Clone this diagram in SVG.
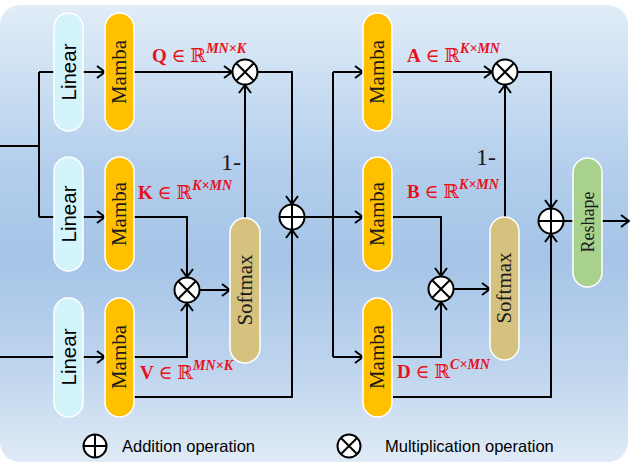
<svg xmlns="http://www.w3.org/2000/svg" width="630" height="463" viewBox="0 0 630 463">
<defs>
<linearGradient id="bg" x1="0" y1="0" x2="0" y2="1">
<stop offset="0" stop-color="#e1edf8"/>
<stop offset="0.35" stop-color="#b4cfec"/>
<stop offset="0.55" stop-color="#a5c4e7"/>
<stop offset="0.8" stop-color="#bfd5ee"/>
<stop offset="1" stop-color="#e0ebf6"/>
</linearGradient>
<marker id="ar" markerUnits="userSpaceOnUse" markerWidth="12" markerHeight="14" refX="10" refY="7" orient="auto">
<path d="M2,1 L10,7 L2,13" fill="none" stroke="#000" stroke-width="2"/>
</marker>
</defs>
<style>
.ln{fill:none;stroke:#000;stroke-width:2}
.lin{fill:#d3f4fb;stroke:#fff;stroke-width:1.5}
.mam{fill:#ffc000;stroke:#fff;stroke-width:1.5}
.sm{fill:#d5c27f;stroke:#fff;stroke-width:1.5}
.rs{fill:#a9d18e;stroke:#fff;stroke-width:1.5}
.op{fill:#fff;stroke:#000;stroke-width:2}
.sans{font-family:"Liberation Sans",Arial,sans-serif;fill:#000}
.serif{font-family:"Liberation Serif","DejaVu Serif",serif;fill:#1a1a1a}
.pl{font-family:"Liberation Sans",Arial,sans-serif;fill:#000;font-size:20.5px}
.pm{font-family:"Liberation Serif","DejaVu Serif",serif;fill:#1a1a1a;font-size:21px}
.lab{font-family:"Liberation Serif","DejaVu Serif",serif;fill:#e8101a;font-size:19px}
.sup{font-size:14px;font-style:italic;font-weight:bold}
</style>
<rect x="0" y="5" width="628" height="457" rx="20" fill="url(#bg)"/>

<g id="connectors">
<path class="ln" d="M0,146 H39 M39,72 V217 M39,72 H54 M39,217 H54"/>
<path class="ln" d="M0,357 H54"/>
<path class="ln" d="M83,72 H105" marker-end="url(#ar)"/>
<path class="ln" d="M83,217 H105" marker-end="url(#ar)"/>
<path class="ln" d="M83,357 H105" marker-end="url(#ar)"/>
<path class="ln" d="M134,72 H232" marker-end="url(#ar)"/>
<path class="ln" d="M245,218 V85" marker-end="url(#ar)"/>
<path class="ln" d="M257.5,72 H292 V204" marker-end="url(#ar)"/>
<path class="ln" d="M134,217 H187 V277" marker-end="url(#ar)"/>
<path class="ln" d="M134,357 H187 V303" marker-end="url(#ar)"/>
<path class="ln" d="M199.5,290 H230" marker-end="url(#ar)"/>
<path class="ln" d="M134,397 H292 V230" marker-end="url(#ar)"/>
<path class="ln" d="M304.5,217 H363" marker-end="url(#ar)"/>
<path class="ln" d="M333,72 V357"/>
<path class="ln" d="M333,72 H363" marker-end="url(#ar)"/>
<path class="ln" d="M333,357 H363" marker-end="url(#ar)"/>
<path class="ln" d="M393,72 H492" marker-end="url(#ar)"/>
<path class="ln" d="M505,217 V85" marker-end="url(#ar)"/>
<path class="ln" d="M517.5,72 H551 V208" marker-end="url(#ar)"/>
<path class="ln" d="M393,217 H441 V276" marker-end="url(#ar)"/>
<path class="ln" d="M393,357 H441 V302" marker-end="url(#ar)"/>
<path class="ln" d="M453.5,289 H490" marker-end="url(#ar)"/>
<path class="ln" d="M393,397 H551 V234" marker-end="url(#ar)"/>
<path class="ln" d="M564,221 H573"/>
<path class="ln" d="M602,221 H629" marker-end="url(#ar)"/>
</g>

<g id="linear1"><rect class="lin" x="54" y="13" width="29" height="118" rx="14.5"/><text class="pl" text-anchor="middle" transform="translate(76,72) rotate(-90)">Linear</text></g>
<g id="linear2"><rect class="lin" x="54" y="157" width="29" height="114" rx="14.5"/><text class="pl" text-anchor="middle" transform="translate(76,214) rotate(-90)">Linear</text></g>
<g id="linear3"><rect class="lin" x="54" y="298" width="29" height="119" rx="14.5"/><text class="pl" text-anchor="middle" transform="translate(76,357) rotate(-90)">Linear</text></g>

<g id="mamba1"><rect class="mam" x="105" y="13" width="29" height="118" rx="14.5"/><text class="pm" text-anchor="middle" transform="translate(126,72) rotate(-90)">Mamba</text></g>
<g id="mamba2"><rect class="mam" x="105" y="157" width="29" height="114" rx="14.5"/><text class="pm" text-anchor="middle" transform="translate(126,214) rotate(-90)">Mamba</text></g>
<g id="mamba3"><rect class="mam" x="105" y="298" width="29" height="119" rx="14.5"/><text class="pm" text-anchor="middle" transform="translate(126,357) rotate(-90)">Mamba</text></g>

<g id="mamba4"><rect class="mam" x="363" y="13" width="29" height="118" rx="14.5"/><text class="pm" text-anchor="middle" transform="translate(384,72) rotate(-90)">Mamba</text></g>
<g id="mamba5"><rect class="mam" x="363" y="157" width="29" height="114" rx="14.5"/><text class="pm" text-anchor="middle" transform="translate(384,214) rotate(-90)">Mamba</text></g>
<g id="mamba6"><rect class="mam" x="363" y="298" width="29" height="119" rx="14.5"/><text class="pm" text-anchor="middle" transform="translate(384,357) rotate(-90)">Mamba</text></g>

<g id="softmax1"><rect class="sm" x="230" y="218" width="30" height="145" rx="15"/><text class="pm" text-anchor="middle" transform="translate(251.5,290) rotate(-90)">Softmax</text></g>
<g id="softmax2"><rect class="sm" x="490" y="217" width="29" height="143" rx="14.5"/><text class="pm" text-anchor="middle" transform="translate(511,288) rotate(-90)">Softmax</text></g>

<g id="reshape"><rect class="rs" x="573" y="158" width="29" height="129" rx="14.5"/><text class="serif" font-size="18" text-anchor="middle" transform="translate(593.5,222) rotate(-90)">Reshape</text></g>

<g id="mul1"><circle class="op" cx="245" cy="72" r="12.5"/><path class="ln" d="M236.5,63.5 L253.5,80.5 M253.5,63.5 L236.5,80.5" stroke-width="1.5"/></g>
<g id="mul2"><circle class="op" cx="187" cy="290" r="12.5"/><path class="ln" d="M178.5,281.5 L195.5,298.5 M195.5,281.5 L178.5,298.5" stroke-width="1.5"/></g>
<g id="add1"><circle class="op" cx="292" cy="217" r="12.5"/><path class="ln" d="M279.5,217 H304.5 M292,204.5 V229.5" stroke-width="1.5"/></g>
<g id="mul3"><circle class="op" cx="505" cy="72" r="12.5"/><path class="ln" d="M496.5,63.5 L513.5,80.5 M513.5,63.5 L496.5,80.5" stroke-width="1.5"/></g>
<g id="mul4"><circle class="op" cx="441" cy="289" r="12.5"/><path class="ln" d="M432.5,280.5 L449.5,297.5 M449.5,280.5 L432.5,297.5" stroke-width="1.5"/></g>
<g id="add2"><circle class="op" cx="551" cy="221" r="12.5"/><path class="ln" d="M538.5,221 H563.5 M551,208.5 V233.5" stroke-width="1.5"/></g>

<g id="labels">
<text class="lab" x="152" y="62"><tspan font-weight="bold">Q</tspan> ∈ ℝ<tspan class="sup" dy="-9">MN×K</tspan></text>
<text class="lab" x="138" y="199"><tspan font-weight="bold">K</tspan> ∈ ℝ<tspan class="sup" dy="-9">K×MN</tspan></text>
<text class="lab" x="140" y="379"><tspan font-weight="bold">V</tspan> ∈ ℝ<tspan class="sup" dy="-9">MN×K</tspan></text>
<text class="lab" x="407" y="62"><tspan font-weight="bold">A</tspan> ∈ ℝ<tspan class="sup" dy="-9">K×MN</tspan></text>
<text class="lab" x="407" y="198"><tspan font-weight="bold">B</tspan> ∈ ℝ<tspan class="sup" dy="-9">K×MN</tspan></text>
<text class="lab" x="397" y="378"><tspan font-weight="bold">D</tspan> ∈ ℝ<tspan class="sup" dy="-9">C×MN</tspan></text>
<text class="serif" x="221" y="170" font-size="24">1-</text>
<text class="serif" x="476" y="165" font-size="24">1-</text>
</g>

<g id="legend">
<circle class="op" cx="95" cy="446" r="11.5"/><path class="ln" d="M84,446 H106 M95,435 V457" stroke-width="1.5"/>
<text class="sans" x="122" y="452" font-size="16.5">Addition operation</text>
<circle class="op" cx="349" cy="446" r="11.5"/><path class="ln" d="M341,438 L357,454 M357,438 L341,454" stroke-width="1.5"/>
<text class="sans" x="385" y="452" font-size="16.5">Multiplication operation</text>
</g>
</svg>
